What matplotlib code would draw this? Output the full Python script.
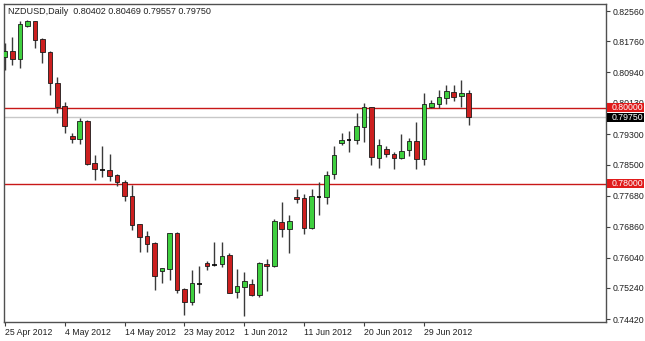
import matplotlib.pyplot as plt
from matplotlib.patches import Rectangle
from matplotlib import transforms

plt.rcParams['font.family'] = ['Liberation Sans', 'DejaVu Sans']

# ---------------------------------------------------------------------------
# data (one bar per trading day, Sunday bars incl.)
# ---------------------------------------------------------------------------
symbol = 'NZDUSD,Daily'
last_bar = '0.80402 0.80469 0.79557 0.79750'

opens = [0.81344, 0.81503, 0.81291, 0.82164, 0.82296, 0.81820, 0.81477, 0.80656,
         0.80049, 0.79256, 0.79176, 0.79652, 0.78543, 0.78358, 0.78358, 0.78226,
         0.78041, 0.77672, 0.76932, 0.76616, 0.76431, 0.75692, 0.75745, 0.76695,
         0.75217, 0.74874, 0.75349, 0.75903, 0.75850, 0.75877, 0.76114, 0.75138,
         0.75270, 0.75349, 0.75058, 0.75877, 0.75824, 0.76985, 0.76800, 0.77645,
         0.77619, 0.76827, 0.77645, 0.77645, 0.78252, 0.79071, 0.79150, 0.79150,
         0.79493, 0.80022, 0.78675, 0.78912, 0.78780, 0.78675, 0.78886, 0.79123,
         0.78648, 0.80022, 0.80102, 0.80260, 0.80418, 0.80313, 0.80402]
highs = [0.81715, 0.81873, 0.82296, 0.82322, 0.82300, 0.81847, 0.81503, 0.80815,
         0.80154, 0.79335, 0.79731, 0.79678, 0.78754, 0.78991, 0.78780, 0.78252,
         0.78094, 0.77962, 0.76940, 0.76748, 0.76457, 0.75780, 0.76700, 0.76721,
         0.75243, 0.75718, 0.75824, 0.75956, 0.76457, 0.76457, 0.76167, 0.75745,
         0.75666, 0.75481, 0.75930, 0.76009, 0.77064, 0.77513, 0.77170, 0.77857,
         0.77724, 0.77857, 0.78041, 0.78332, 0.78991, 0.79335, 0.79388, 0.79863,
         0.80128, 0.80030, 0.79176, 0.78991, 0.78833, 0.79309, 0.79203, 0.79625,
         0.80392, 0.80207, 0.80471, 0.80603, 0.80603, 0.80736, 0.80469]
lows = [0.81000, 0.81133, 0.81053, 0.82137, 0.81582, 0.81186, 0.80339, 0.79863,
        0.79335, 0.79071, 0.79044, 0.78490, 0.78094, 0.78173, 0.78067, 0.77936,
        0.77540, 0.76774, 0.76193, 0.76193, 0.75190, 0.75375, 0.75454, 0.75111,
        0.74530, 0.74794, 0.75111, 0.75718, 0.75824, 0.75798, 0.75105, 0.74979,
        0.74504, 0.75032, 0.75006, 0.75164, 0.75798, 0.76589, 0.76167, 0.77487,
        0.76668, 0.76800, 0.77170, 0.77460, 0.78120, 0.79018, 0.78833, 0.79044,
        0.79097, 0.78490, 0.78411, 0.78701, 0.78384, 0.78648, 0.78727, 0.78384,
        0.78490, 0.79996, 0.79996, 0.80102, 0.80181, 0.80022, 0.79557]
closes = [0.81503, 0.81291, 0.82217, 0.82296, 0.81794, 0.81477, 0.80656, 0.80022,
          0.79520, 0.79176, 0.79652, 0.78516, 0.78384, 0.78358, 0.78200, 0.78041,
          0.77672, 0.76906, 0.76589, 0.76404, 0.75560, 0.75771, 0.76695, 0.75190,
          0.74874, 0.75375, 0.75349, 0.75824, 0.75850, 0.76088, 0.75111, 0.75296,
          0.75428, 0.75058, 0.75903, 0.75824, 0.77011, 0.76800, 0.77011, 0.77592,
          0.76827, 0.77672, 0.77645, 0.78226, 0.78754, 0.79150, 0.79150, 0.79520,
          0.80022, 0.78701, 0.79018, 0.78780, 0.78675, 0.78859, 0.79123, 0.78648,
          0.80102, 0.80128, 0.80286, 0.80445, 0.80286, 0.80400, 0.79750]

date_ticks = [0, 8, 16, 24, 32, 40, 48, 56]
date_labels = ['25 Apr 2012', '4 May 2012', '14 May 2012', '23 May 2012',
               '1 Jun 2012', '11 Jun 2012', '20 Jun 2012', '29 Jun 2012']
price_ticks = [0.82560, 0.81760, 0.80940, 0.80130, 0.79300, 0.78500,
               0.77680, 0.76860, 0.76040, 0.75240, 0.74420]
levels = [0.80000, 0.78000]
last_price = 0.79750

# ---------------------------------------------------------------------------
W, H = 645, 341
fig = plt.figure(figsize=(W / 100, H / 100), dpi=100, facecolor='white')
ax = fig.add_axes([4 / W, 19 / H, 602 / W, 318 / H])

up_col = '#3fd03f'
down_col = '#cc1f1f'
body_w = 0.62

for i, (o, h, l, c) in enumerate(zip(opens, highs, lows, closes)):
    ax.vlines(i, l, h, color='#3a3a3a', lw=1, zorder=3)
    if abs(c - o) < 1e-6:
        ax.hlines(o, i - body_w / 2, i + body_w / 2, color='black', lw=1.2, zorder=4)
        continue
    col = up_col if c > o else down_col
    ax.add_patch(Rectangle((i - body_w / 2, min(o, c)), body_w, abs(c - o),
                           facecolor=col, edgecolor='#1a1a1a', lw=0.6, zorder=4))

# support / resistance levels and bid line
for lv in levels:
    ax.axhline(lv, color='#c81818', lw=1, zorder=2)
ax.axhline(last_price, color='#c8c8c8', lw=1, zorder=1)

ax.set_xlim(-0.13, 80.35)
ax.set_ylim(0.74341, 0.82745)

ax.set_xticks(date_ticks)
ax.set_xticklabels(date_labels, ha='left')
ax.yaxis.tick_right()
ax.set_yticks(price_ticks)
ax.set_yticklabels([f'{p:.5f}' for p in price_ticks])
ax.tick_params(axis='both', length=3, width=0.8, color='#404040', labelsize=6.3,
               labelcolor='#202020', pad=1.5)
ax.tick_params(axis='x', pad=1.5)
for s in ax.spines.values():
    s.set_color('#505050')
    s.set_linewidth(1)

# price boxes on the right scale
blend = transforms.blended_transform_factory(ax.transAxes, ax.transData)
box_h = 9 / 3784
for val, bg in [(levels[0], '#e01b1b'), (last_price, 'black'), (levels[1], '#e01b1b')]:
    ax.add_patch(Rectangle((1.0017, val - box_h / 2), 0.061, box_h, transform=blend,
                           facecolor=bg, edgecolor='none', clip_on=False, zorder=10))
    ax.text(1.0095, val, f'{val:.5f}', transform=blend, color='white', fontsize=6.3,
            va='center', ha='left', zorder=11, clip_on=False)

# chart-shift marker
ax.plot([64.0], [0.985], marker='v', ms=5, color='#c4c4c4', transform=blend,
        clip_on=False, zorder=5)

fig.text(8 / W, 1 - 12 / H, f'{symbol}  {last_bar}', fontsize=6.5, color='#202020',
         va='center', ha='left')

fig.savefig('out.png', dpi=100, facecolor='white')
plt.close()
